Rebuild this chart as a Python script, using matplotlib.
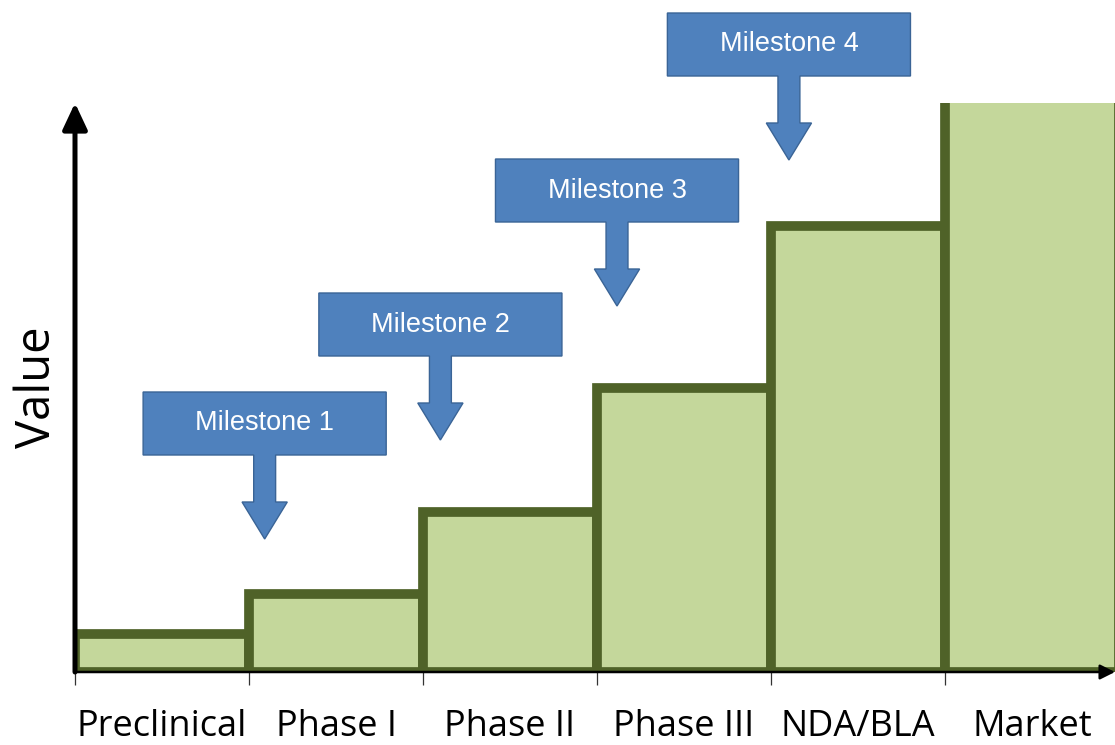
"""Drug development value staircase with milestone callouts."""
import matplotlib
matplotlib.use("Agg")
import matplotlib.pyplot as plt
from matplotlib.patches import Polygon

# data
stages = ["Preclinical", "Phase I", "Phase II", "Phase III", "NDA/BLA", "Market"]
values = [3.8, 7.8, 16.0, 28.4, 44.6, 60.0]
milestones = ["Milestone 1", "Milestone 2", "Milestone 3", "Milestone 4"]

# callout tip positions (layout, data coords)
tip_x = [1.09, 2.10, 3.115, 4.103]
tip_y = [13.3, 23.2, 36.6, 51.2]

FILL = "#C4D79B"
EDGE = "#4F6228"
BLUE = "#4F81BD"
BLUE_EDGE = "#3A6496"

W, H = 1115, 745
fig = plt.figure(figsize=(W / 100, H / 100), dpi=100)
ax = fig.add_axes([75 / W, 73 / H, 1040 / W, 569 / H])

x = list(range(len(stages)))
for xi, v in zip(x, values):
    ax.bar(xi, v, width=1.0, align="edge", color=FILL, edgecolor=EDGE,
           linewidth=7, zorder=2)

ax.set_xlim(0, 1040 / 174)
ax.set_ylim(0, 56.9)

# axes drawn as arrows
ax.annotate("", xy=(0, 1.0), xytext=(0, 0), xycoords="axes fraction",
            textcoords="axes fraction", annotation_clip=False,
            arrowprops=dict(arrowstyle="-|>,head_length=1.6,head_width=0.75",
                            mutation_scale=10, lw=3.6, color="black",
                            shrinkA=0, shrinkB=0), zorder=5)
ax.annotate("", xy=(1.0, 0), xytext=(0, 0), xycoords="axes fraction",
            textcoords="axes fraction", annotation_clip=False,
            arrowprops=dict(arrowstyle="-|>,head_length=0.9,head_width=0.45",
                            mutation_scale=10, lw=1.8, color="black",
                            shrinkA=0, shrinkB=0), zorder=5)
for s in ax.spines.values():
    s.set_visible(False)

# ticks at stage boundaries, labels centred on stages
ax.set_xticks(x)
ax.set_xticklabels([])
ax.set_xticks([xi + 0.5 for xi in x], minor=True)
ax.set_xticklabels(stages, minor=True, fontsize=26, family="Open Sans")
ax.tick_params(axis="x", which="major", length=9, width=0.9,
               color="#333333", direction="out")
ax.tick_params(axis="x", which="minor", length=0, pad=27)
ax.set_yticks([])
ax.set_ylabel("Value", fontsize=34, family="Open Sans", labelpad=10)

# milestone callouts: box with downward block arrow
bw, bh = 1.397, 6.3
sw, hw = 0.063, 0.13
hl, sl = 3.7, 4.7
for label, tx, ty in zip(milestones, tip_x, tip_y):
    yb = ty + hl + sl
    pts = [(tx, ty), (tx + hw, ty + hl), (tx + sw, ty + hl), (tx + sw, yb),
           (tx + bw / 2, yb), (tx + bw / 2, yb + bh), (tx - bw / 2, yb + bh),
           (tx - bw / 2, yb), (tx - sw, yb), (tx - sw, ty + hl),
           (tx - hw, ty + hl)]
    ax.add_patch(Polygon(pts, closed=True, facecolor=BLUE, edgecolor=BLUE_EDGE,
                         linewidth=1.0, clip_on=False, zorder=6))
    ax.text(tx, yb + bh / 2, label, ha="center", va="center", fontsize=19.5,
            color="white", family="Liberation Sans", zorder=7, clip_on=False)

fig.savefig("out.png", dpi=100)
